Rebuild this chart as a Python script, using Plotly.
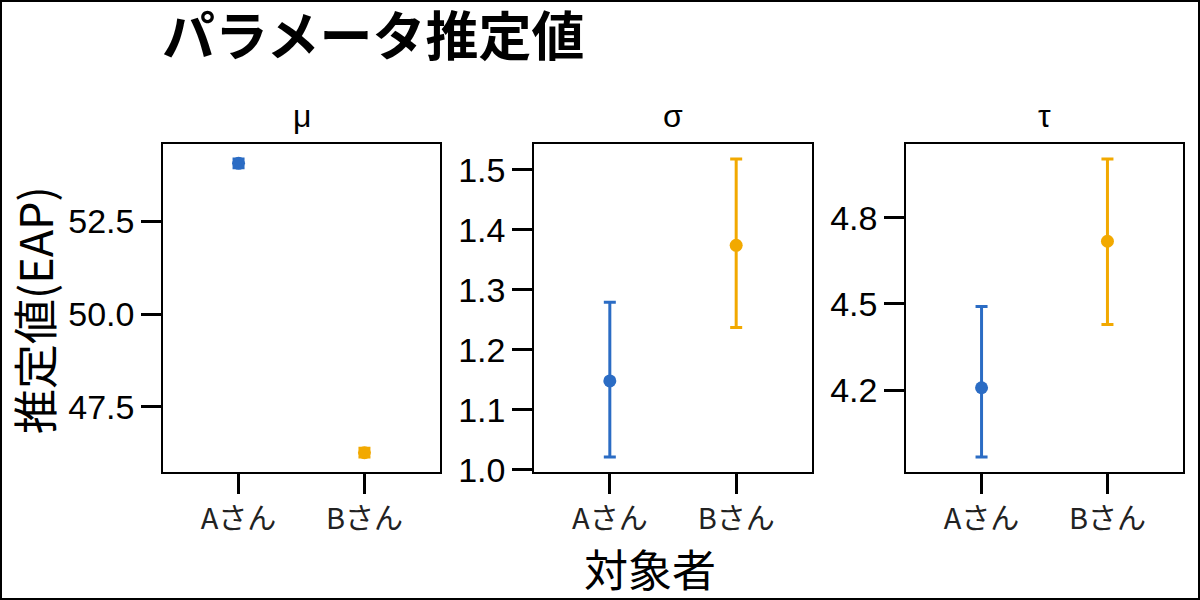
import plotly.graph_objects as go

# data
persons = ["Aさん", "Bさん"]
params = ["μ", "σ", "τ"]

mu_eap = [54.07, 46.26]
mu_lower = [53.95, 46.14]
mu_upper = [54.19, 46.38]

sigma_eap = [1.148, 1.374]
sigma_lower = [1.021, 1.237]
sigma_upper = [1.279, 1.518]

tau_eap = [4.209, 4.718]
tau_lower = [3.968, 4.429]
tau_upper = [4.491, 5.004]

colors = ["#2B6CC4", "#F2A900"]

W, H = 1200, 600
L, R, T, B = 163, 17, 144, 128
pw, ph = W - L - R, H - T - B

def px(x):
    return (x - L) / pw

def py(y):
    return (H - B - y) / ph

domains = [[px(163), px(440)], [px(534), px(812)], [px(906), px(1183)]]

panels = [
    (mu_eap, mu_lower, mu_upper),
    (sigma_eap, sigma_lower, sigma_upper),
    (tau_eap, tau_lower, tau_upper),
]
tickvals = [[47.5, 50.0, 52.5], [1.0, 1.1, 1.2, 1.3, 1.4, 1.5], [4.2, 4.5, 4.8]]

fig = go.Figure()

for i, (eap, lo, hi) in enumerate(panels):
    ax = "" if i == 0 else str(i + 1)
    for j, p in enumerate(persons):
        fig.add_trace(go.Scatter(
            x=[p], y=[eap[j]],
            mode="markers",
            marker=dict(color=colors[j], size=13),
            error_y=dict(type="data", symmetric=False,
                         array=[hi[j] - eap[j]], arrayminus=[eap[j] - lo[j]],
                         color=colors[j], thickness=3, width=6),
            xaxis="x" + ax, yaxis="y" + ax,
            showlegend=False,
        ))
    # ggplot-like 5% expansion of the free y scale
    span = max(hi) - min(lo)
    yr = [min(lo) - 0.05 * span, max(hi) + 0.05 * span]
    axis_common = dict(showline=True, mirror=True, linecolor="black", linewidth=1.5,
                       ticks="outside", ticklen=20, tickwidth=2.5, tickcolor="black",
                       showgrid=False, zeroline=False)
    fig.layout["xaxis" + ax] = dict(
        domain=domains[i], anchor="y" + ax, type="category",
        categoryorder="array", categoryarray=persons, range=[-0.6, 1.6],
        tickfont=dict(family="Noto Sans CJK JP", size=29, color="#222"),
        **axis_common)
    fig.layout["yaxis" + ax] = dict(
        domain=[0, 1], anchor="x" + ax, range=yr,
        tickvals=tickvals[i], tickformat=".1f",
        tickfont=dict(family="Liberation Sans", size=34, color="black"),
        **axis_common)
    fig.add_annotation(
        x=(domains[i][0] + domains[i][1]) / 2, y=py(116),
        xref="paper", yref="paper", text=params[i], showarrow=False,
        font=dict(family="Liberation Sans", size=32, color="black"),
        xanchor="center", yanchor="middle")

# axis titles
fig.add_annotation(x=px(33), y=py(310), xref="paper", yref="paper",
                   text="推定値(EAP)", textangle=-90, showarrow=False,
                   font=dict(family="Noto Sans CJK JP", size=45, color="black"),
                   xanchor="center", yanchor="middle")
fig.add_annotation(x=px(650), y=py(568), xref="paper", yref="paper",
                   text="対象者", showarrow=False,
                   font=dict(family="Noto Sans CJK JP", size=44, color="black"),
                   xanchor="center", yanchor="middle")

# outer frame
fig.add_shape(type="rect", xref="paper", yref="paper",
              x0=px(1), x1=px(W - 1), y0=py(H - 1), y1=py(1),
              line=dict(color="black", width=2), layer="below")

fig.update_layout(
    width=W, height=H,
    margin=dict(l=L, r=R, t=T, b=B),
    paper_bgcolor="white", plot_bgcolor="white",
    title=dict(text="<b>パラメータ推定値</b>", xref="container", yref="container",
               x=162 / W, xanchor="left", y=1 - 37 / H, yanchor="middle",
               font=dict(family="Noto Sans CJK JP", size=53, color="black")),
)

fig.write_html("out.html", config={"displayModeBar": False},
               post_script="document.body.style.margin='0';")
